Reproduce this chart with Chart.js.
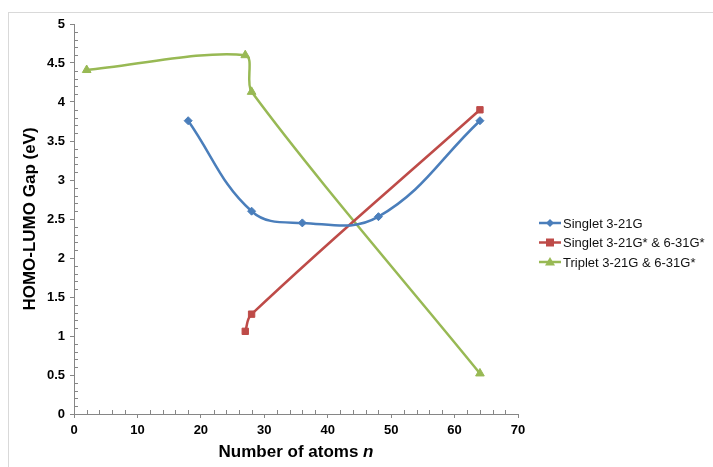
<!DOCTYPE html>
<html>
<head>
<meta charset="utf-8">
<script src="https://cdn.jsdelivr.net/npm/chart.js@4"></script>
<style>
  html, body { margin: 0; padding: 0; background: #fff; }
  #wrap { width: 713px; height: 467px; }
</style>
</head>
<body>
<div id="wrap"><canvas id="chart" width="713" height="467"></canvas></div>
<script>
// valores
const atomsSinglet = [18, 28, 36, 48, 64];
const gapSinglet = [3.76, 2.6, 2.45, 2.53, 3.76];
const atomsSingletStar = [27, 28, 64];
const gapSingletStar = [1.06, 1.28, 3.9];
const atomsTriplet = [2, 27, 28, 64];
const gapTriplet = [4.41, 4.6, 4.13, 0.52];
const xTicks = [0, 10, 20, 30, 40, 50, 60, 70];
const yTicks = [0, 0.5, 1, 1.5, 2, 2.5, 3, 3.5, 4, 4.5, 5];
const seriesNames = ['Singlet 3-21G', 'Singlet 3-21G* & 6-31G*', 'Triplet 3-21G & 6-31G*'];

const axisColor = '#868686';

function pares(xs, ys) {
    return xs.map((x, i) => ({x: x, y: ys[i]}));
}

// moldura cinza + ticks menores + titulo do eixo x + legenda
const extras = {
    id: 'extras',
    beforeDraw(chart) {
        const ctx = chart.ctx;
        ctx.save();
        ctx.fillStyle = '#fff';
        ctx.fillRect(0, 0, chart.width, chart.height);
        ctx.strokeStyle = '#d9d9d9';
        ctx.lineWidth = 1;
        ctx.strokeRect(8.5, 12.5, chart.width + 10, chart.height + 10);
        ctx.restore();
    },
    afterDraw(chart) {
        const ctx = chart.ctx;
        const xs = chart.scales.x, ys = chart.scales.y;
        const area = chart.chartArea;
        ctx.save();
        ctx.strokeStyle = axisColor;
        ctx.lineWidth = 1;
        ctx.beginPath();
        for (let i = 0; i <= 50; i++) {
            if (i % 5 === 0) continue;
            let py = Math.round(ys.getPixelForValue(i / 10)) + 0.5;
            ctx.moveTo(area.left, py);
            ctx.lineTo(area.left + 4, py);
        }
        for (let i = 0; i <= 35; i++) {
            if (i % 5 === 0) continue;
            let px = Math.round(xs.getPixelForValue(i * 2)) + 0.5;
            ctx.moveTo(px, area.bottom);
            ctx.lineTo(px, area.bottom - 4);
        }
        ctx.stroke();

        // titulo do eixo x com n em italico
        const parte1 = 'Number of atoms ';
        const parte2 = 'n';
        const f1 = 'bold 17px "Liberation Sans", Arial, sans-serif';
        const f2 = 'italic bold 17px "Liberation Sans", Arial, sans-serif';
        ctx.font = f1;
        let w1 = ctx.measureText(parte1).width;
        ctx.font = f2;
        let w2 = ctx.measureText(parte2).width;
        let cx = (area.left + area.right) / 2;
        let x0 = cx - (w1 + w2) / 2;
        ctx.fillStyle = '#000';
        ctx.textBaseline = 'middle';
        ctx.textAlign = 'left';
        ctx.font = f1;
        ctx.fillText(parte1, x0, 452);
        ctx.font = f2;
        ctx.fillText(parte2, x0 + w1, 452);

        // legenda
        ctx.font = '13px "Liberation Sans", Arial, sans-serif';
        chart.data.datasets.forEach((ds, i) => {
            let ly = 223 + i * 19.5;
            ctx.strokeStyle = ds.borderColor;
            ctx.lineWidth = 2.5;
            ctx.beginPath();
            ctx.moveTo(539, ly);
            ctx.lineTo(561, ly);
            ctx.stroke();
            ctx.fillStyle = ds.borderColor;
            let mx = 550;
            ctx.beginPath();
            if (ds.pointStyle === 'rectRot') {
                ctx.moveTo(mx, ly - 4); ctx.lineTo(mx + 4, ly); ctx.lineTo(mx, ly + 4); ctx.lineTo(mx - 4, ly);
            } else if (ds.pointStyle === 'rect') {
                ctx.rect(mx - 4, ly - 4, 8, 8);
            } else {
                ctx.moveTo(mx, ly - 5); ctx.lineTo(mx + 5, ly + 3.5); ctx.lineTo(mx - 5, ly + 3.5);
            }
            ctx.closePath();
            ctx.fill();
            ctx.fillStyle = '#111';
            ctx.textBaseline = 'middle';
            ctx.fillText(ds.label, 563, ly + 1);
        });
        ctx.restore();
    }
};

const ctx = document.getElementById('chart').getContext('2d');
const data = {
    datasets: [{
            label: seriesNames[0],
            data: pares(atomsSinglet, gapSinglet),
            borderColor: '#4A7EBB',
            backgroundColor: '#4A7EBB',
            pointStyle: 'rectRot',
            pointRadius: 4
        }, {
            label: seriesNames[1],
            data: pares(atomsSingletStar, gapSingletStar),
            borderColor: '#BE4B48',
            backgroundColor: '#BE4B48',
            pointStyle: 'rect',
            pointRadius: 4.5
        }, {
            label: seriesNames[2],
            data: pares(atomsTriplet, gapTriplet),
            borderColor: '#98B954',
            backgroundColor: '#98B954',
            pointStyle: 'triangle',
            pointRadius: 5,
            tension: 0.3
        }]
};

const config = {
    type: 'line',
    data,
    options: {
        responsive: false,
        animation: false,
        layout: {
            padding: {left: 0, top: 24, right: 195, bottom: 0}
        },
        elements: {
            line: {borderWidth: 2.5, tension: 0.4, fill: false},
            point: {borderWidth: 1, hoverRadius: 5}
        },
        plugins: {
            legend: {display: false},
            tooltip: {enabled: false}
        },
        scales: {
            x: {
                type: 'linear',
                min: 0,
                max: 70,
                afterBuildTicks: s => { s.ticks = xTicks.map(v => ({value: v})); },
                afterFit: s => { s.height = 53; },
                border: {color: axisColor, width: 1},
                grid: {drawOnChartArea: false, tickLength: 4, tickColor: axisColor},
                ticks: {
                    padding: 5,
                    color: '#000',
                    font: {family: '"Liberation Sans", Arial, sans-serif', size: 13, weight: 'bold'},
                    callback: v => String(v)
                },
                title: {display: false}
            },
            y: {
                type: 'linear',
                min: 0,
                max: 5,
                afterBuildTicks: s => { s.ticks = yTicks.map(v => ({value: v})); },
                afterFit: s => { s.width = 74; },
                border: {color: axisColor, width: 1},
                grid: {drawOnChartArea: false, tickLength: 4, tickColor: axisColor},
                ticks: {
                    padding: 5,
                    color: '#000',
                    font: {family: '"Liberation Sans", Arial, sans-serif', size: 13, weight: 'bold'},
                    callback: v => String(v)
                },
                title: {
                    display: true,
                    text: 'HOMO-LUMO Gap (eV)',
                    color: '#000',
                    font: {family: '"Liberation Sans", Arial, sans-serif', size: 17, weight: 'bold'},
                    padding: {top: 20, bottom: 0}
                }
            }
        }
    },
    plugins: [extras]
};
const myChart = new Chart(ctx, config);
</script>
</body>
</html>
